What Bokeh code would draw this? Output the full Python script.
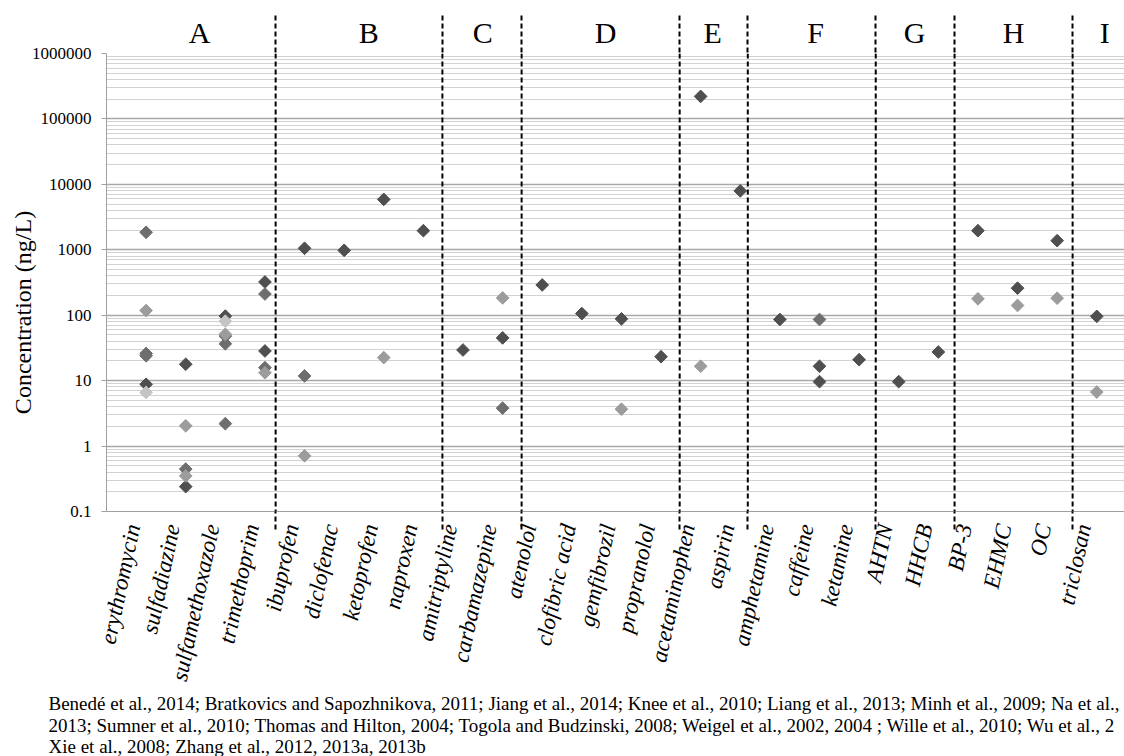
import math
from bokeh.plotting import figure
from bokeh.models import ColumnDataSource, FixedTicker, LinearAxis, Range1d, Span
from bokeh.layouts import column
from bokeh.embed import file_html
from bokeh.resources import INLINE
from bokeh.core.properties import value

# ---------------- data ----------------
categories = ["erythromycin", "sulfadiazine", "sulfamethoxazole", "trimethoprim",
              "ibuprofen", "diclofenac", "ketoprofen", "naproxen",
              "amitriptyline", "carbamazepine",
              "atenolol", "clofibric acid", "gemfibrozil", "propranolol",
              "acetaminophen", "aspirin",
              "amphetamine", "caffeine", "ketamine",
              "AHTN", "HHCB",
              "BP-3", "EHMC", "OC",
              "triclosan"]
groups = ["A", "B", "C", "D", "E", "F", "G", "H", "I"]

y_ticks = [0.1, 1, 10, 100, 1000, 10000, 100000, 1000000]
y_tick_labels = ["0.1", "1", "10", "100", "1000", "10000", "100000", "1000000"]

pt_compound = [
    "erythromycin", "erythromycin", "erythromycin", "erythromycin", "erythromycin", "erythromycin",
    "sulfadiazine", "sulfadiazine", "sulfadiazine", "sulfadiazine", "sulfadiazine",
    "sulfamethoxazole", "sulfamethoxazole", "sulfamethoxazole", "sulfamethoxazole", "sulfamethoxazole", "sulfamethoxazole",
    "trimethoprim", "trimethoprim", "trimethoprim", "trimethoprim", "trimethoprim",
    "ibuprofen", "ibuprofen", "ibuprofen",
    "diclofenac",
    "ketoprofen", "ketoprofen",
    "naproxen",
    "amitriptyline",
    "carbamazepine", "carbamazepine", "carbamazepine",
    "atenolol",
    "clofibric acid",
    "gemfibrozil", "gemfibrozil",
    "propranolol",
    "acetaminophen", "acetaminophen",
    "aspirin",
    "amphetamine",
    "caffeine", "caffeine", "caffeine",
    "ketamine",
    "AHTN",
    "HHCB",
    "BP-3", "BP-3",
    "EHMC", "EHMC",
    "OC", "OC",
    "triclosan", "triclosan",
]
pt_value = [
    1850, 118, 26, 24, 8.8, 6.6,
    17.8, 2.04, 0.445, 0.35, 0.24,
    97, 81, 51, 48, 36.6, 2.2,
    322, 211, 28.4, 15.8, 13.2,
    1054, 11.8, 0.71,
    980,
    5890, 22.5,
    1960,
    29.4,
    184, 45, 3.8,
    290,
    106,
    88, 3.66,
    23.2,
    221000, 16.6,
    7950,
    86,
    86, 16.6, 9.66,
    20.9,
    9.66,
    27.4,
    1960, 178,
    259, 141,
    1380, 182,
    96, 6.7,
]
pt_series = [
    "s2", "s3", "s2", "s2", "s1", "s4",
    "s1", "s3", "s2", "s3", "s1",
    "s1", "s4", "s3", "s2", "s2", "s2",
    "s1", "s2", "s1", "s2", "s3",
    "s1", "s2", "s3",
    "s1",
    "s1", "s3",
    "s1",
    "s1",
    "s3", "s1", "s2",
    "s1",
    "s1",
    "s1", "s3",
    "s1",
    "s1", "s3",
    "s1",
    "s1",
    "s2", "s1", "s1",
    "s1",
    "s1",
    "s1",
    "s1", "s3",
    "s1", "s3",
    "s1", "s3",
    "s1", "s3",
]

y_label = "Concentration (ng/L)"
footer_lines = [
    "Benedé et al., 2014; Bratkovics and Sapozhnikova, 2011; Jiang et al., 2014; Knee et al., 2010; Liang et al., 2013; Minh et al., 2009; Na et al.,",
    "2013; Sumner et al., 2010; Thomas and Hilton, 2004; Togola and Budzinski, 2008; Weigel et al., 2002, 2004 ; Wille et al., 2010; Wu et al., 2",
    "Xie et al., 2008;  Zhang et al., 2012, 2013a, 2013b",
]

# ---------------- layout constants (in category units) ----------------
group_dividers = [4.27, 8.48, 10.48, 14.47, 16.19, 19.42, 21.41, 24.39]
group_label_pos = [2.35, 6.62, 9.5, 12.6, 15.3, 17.9, 20.4, 22.9, 25.2]
LABEL_SHIFT = 0.33   # rotated category names sit slightly left of their points

# ---------------- style ----------------
series_colors = {"s1": "#4f4f4f", "s2": "#6e6e6e", "s3": "#9c9c9c", "s4": "#c4c4c4"}
SERIF = "Liberation Serif"

W, H = 1124, 690
BL, BR, BT, BB = 106, 0, 53, 179
X0 = 0
X1 = 25.7
Y0, Y1 = 0.1, 1e6

p = figure(width=W, height=H, y_axis_type="log",
           x_range=Range1d(X0, X1), y_range=Range1d(Y0, Y1),
           output_backend="svg", toolbar_location=None,
           min_border_left=BL, min_border_right=BR,
           min_border_top=BT, min_border_bottom=BB)
p.frame_align = False
p.outline_line_color = None
p.background_fill_color = "white"
p.border_fill_color = "white"

# y axis / grid
minor = [k * 10.0 ** e for e in range(-1, 6) for k in range(2, 10)]
yt = FixedTicker(ticks=y_ticks, minor_ticks=minor)
p.yaxis.ticker = yt
p.ygrid.ticker = yt
p.yaxis.major_label_overrides = {t: l for t, l in zip(y_ticks, y_tick_labels)}
p.yaxis.major_label_text_font = SERIF
p.yaxis.major_label_text_font_size = "17px"
p.yaxis.major_label_text_color = "black"
p.yaxis.axis_line_color = "#a0a0a0"
p.yaxis.major_tick_line_color = "#a0a0a0"
p.yaxis.major_tick_out = 5
p.yaxis.major_tick_in = 0
p.yaxis.minor_tick_line_color = None
p.yaxis.major_label_standoff = 10
# trailing no-break spaces move the centred title toward the lower part, as in the source
p.yaxis.axis_label = y_label + "\u00a0" * 10
p.yaxis.axis_label_text_font = SERIF
p.yaxis.axis_label_text_font_style = "normal"
p.yaxis.axis_label_text_font_size = "24px"
p.yaxis.axis_label_text_color = "black"
p.yaxis.axis_label_standoff = -7
p.ygrid.grid_line_color = "#a8a8a8"
p.ygrid.grid_line_width = 1.3
p.ygrid.minor_grid_line_color = "#d2d2d2"
p.ygrid.minor_grid_line_width = 1
p.xgrid.grid_line_color = None

DASH = "5 3"
DIV_BELOW = 18
DIV_ABOVE = 38

# x axis (below): category labels; dashed minor ticks continue the dividers below the axis
label_ticks = [round(i + 1 - LABEL_SHIFT, 2) for i in range(len(categories))]
xt = FixedTicker(ticks=label_ticks, minor_ticks=group_dividers)
p.xaxis.ticker = xt
p.xaxis.major_label_overrides = {t: c for t, c in zip(label_ticks, categories)}
p.xaxis.major_label_orientation = math.radians(78)
p.xaxis.major_label_text_font = SERIF
p.xaxis.major_label_text_font_style = "italic"
p.xaxis.major_label_text_font_size = "23px"
p.xaxis.major_label_text_color = "black"
p.xaxis.major_tick_line_color = None
p.xaxis.minor_tick_line_color = "black"
p.xaxis.minor_tick_line_width = 2
p.xaxis.minor_tick_line_dash = DASH
p.xaxis.minor_tick_out = DIV_BELOW
p.xaxis.minor_tick_in = 0
p.xaxis.axis_line_color = "#a0a0a0"
p.xaxis.major_label_standoff = 13 - DIV_BELOW

# group axis (above): group letters, dividers continue upward as dashed ticks
gax = LinearAxis(ticker=FixedTicker(ticks=group_label_pos, minor_ticks=group_dividers),
                 major_label_overrides={c: g for c, g in zip(group_label_pos, groups)})
gax.axis_line_color = None
gax.major_tick_line_color = None
gax.major_tick_out = 0
gax.major_tick_in = 0
gax.minor_tick_line_color = "black"
gax.minor_tick_line_width = 2
gax.minor_tick_line_dash = DASH
gax.minor_tick_out = DIV_ABOVE
gax.minor_tick_in = 0
gax.major_label_text_font = SERIF
gax.major_label_text_font_size = "30px"
gax.major_label_text_color = "black"
gax.major_label_standoff = 5 - DIV_ABOVE
p.add_layout(gax, "above")

# dividers inside the plot area
for d in group_dividers:
    p.add_layout(Span(location=d, dimension="height", line_color="black",
                      line_width=2, line_dash=DASH))

# points (drawn by series so lighter ones sit on top)
for s in ["s1", "s2", "s3", "s4"]:
    xs = [categories.index(c) + 1 for c, ser in zip(pt_compound, pt_series) if ser == s]
    ys = [v for v, ser in zip(pt_value, pt_series) if ser == s]
    src = ColumnDataSource(dict(x=xs, y=ys))
    p.scatter("x", "y", source=src, marker="square", angle=math.pi / 4,
              size=9, fill_color=series_colors[s], line_color=series_colors[s])

# ---------------- footer (reference list) ----------------
FH = 756 - H
f = figure(width=W, height=FH, x_range=Range1d(0, W), y_range=Range1d(FH, 0),
           output_backend="svg", toolbar_location=None,
           min_border_left=0, min_border_right=0, min_border_top=0, min_border_bottom=0)
f.frame_align = False
f.axis.visible = False
f.grid.visible = False
f.outline_line_color = None
fsrc = ColumnDataSource(dict(x=[48, 48, 48], y=[13, 35, 56], text=footer_lines))
f.text("x", "y", text="text", source=fsrc, text_font=value(SERIF), text_font_size="19px",
       text_align="left", text_baseline="alphabetic", text_color="black")

layout = column(p, f, spacing=0)
open("out.html", "w").write(file_html(layout, INLINE))
